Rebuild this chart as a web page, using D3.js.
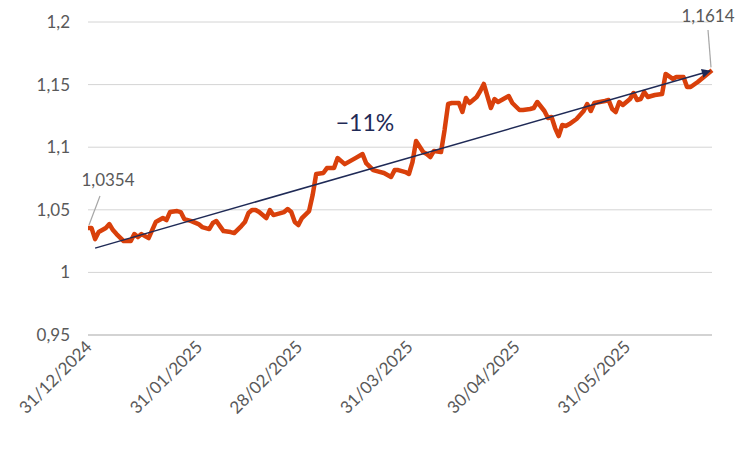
<!DOCTYPE html><html><head><meta charset="utf-8"><script src="https://cdn.jsdelivr.net/npm/d3@7"></script>
<style>body{margin:0;background:#fff}text{font-family:Lato,"Open Sans",sans-serif}</style></head><body><svg id="c" width="750" height="450"></svg><script>
const dayOffsets=[0,1,2,3,5,6,7,8,10,11,12,13,14,15,17,18,19,21,22,23,25,26,27,29,31,32,34,35,36,37,38,40,41,43,44,45,46,47,48,50,51,52,53,55,56,57,58,59,60,62,63,64,66,67,68,69,70,72,73,75,77,78,80,81,83,85,86,87,89,90,91,92,94,95,96,97,99,100,101,102,104,105,106,107,109,110,111,113,114,115,117,118,119,121,122,124,125,126,128,129,130,131,132,133,134,135,137,139,140,141,142,145,146,147,148,149,150,152,153,154,155,156,157,159,161,162,164,165,167,168,169,171,175];
const values=[1.0354,1.0354,1.0266,1.0322,1.0354,1.0386,1.0338,1.0306,1.025,1.025,1.025,1.0306,1.0282,1.0306,1.0274,1.0338,1.0402,1.0434,1.0418,1.0482,1.049,1.0482,1.0426,1.041,1.0386,1.0362,1.0346,1.0394,1.041,1.037,1.033,1.0322,1.0314,1.037,1.0402,1.0474,1.0498,1.0498,1.0482,1.0434,1.0498,1.0458,1.0466,1.0482,1.0506,1.0482,1.0402,1.0378,1.0434,1.049,1.0618,1.0786,1.0794,1.0833,1.0833,1.0833,1.0913,1.0865,1.0881,1.0913,1.0945,1.0873,1.0817,1.0809,1.0794,1.0762,1.0817,1.0817,1.0801,1.0786,1.0881,1.1049,1.0961,1.0945,1.0921,1.0969,1.0961,1.1137,1.1345,1.1353,1.1353,1.1281,1.1393,1.1353,1.1401,1.1449,1.1505,1.1313,1.1385,1.1361,1.1393,1.1409,1.1353,1.1297,1.1297,1.1305,1.1313,1.1361,1.1289,1.1233,1.1241,1.1153,1.1089,1.1177,1.1169,1.1185,1.1225,1.1289,1.1345,1.1289,1.1353,1.1369,1.1377,1.1305,1.1281,1.1361,1.1337,1.1385,1.1433,1.1377,1.1385,1.1441,1.1401,1.1417,1.1425,1.1585,1.1545,1.1561,1.1561,1.1481,1.1481,1.1521,1.1614];
const xTickLabels=["31/12/2024","31/01/2025","28/02/2025","31/03/2025","30/04/2025","31/05/2025"];
const yTicks=[0.95,1,1.05,1.1,1.15,1.2];
const trend={start:[2,1.0194],end:[175,1.1608]};
const startDate=new Date(2024,11,31);
const parse=d3.timeParse("%d/%m/%Y");
const dates=dayOffsets.map(o=>d3.timeDay.offset(startDate,o));
const svg=d3.select("#c");
const x=d3.scaleTime().domain([startDate,d3.timeDay.offset(startDate,175)]).range([88,712]);
const y=d3.scaleLinear().domain([0.95,1.2]).range([335,22]);
const fmt=v=>String(v).replace(".",",");
svg.append("g").selectAll("line").data(yTicks).join("line").attr("x1",88).attr("x2",712).attr("y1",d=>y(d)).attr("y2",d=>y(d)).attr("stroke","#d4d4d4").attr("stroke-width",1);
svg.append("line").attr("x1",88).attr("x2",712).attr("y1",y(0.95)).attr("y2",y(0.95)).attr("stroke","#bdbdbd");
svg.append("g").selectAll("text").data(yTicks).join("text").attr("x",70).attr("y",d=>y(d)+6).attr("text-anchor","end").attr("font-size",17).attr("fill","#595959").text(fmt);
svg.append("g").selectAll("text").data(xTickLabels).join("text").attr("transform",d=>`translate(${x(parse(d))+5},${348}) rotate(-45)`).attr("text-anchor","end").attr("font-size",17).attr("fill","#595959").text(d=>d);
const line=d3.line().x((d,i)=>x(dates[i])).y(d=>y(d));
svg.append("path").datum(values).attr("d",line).attr("fill","none").attr("stroke","#d9400b").attr("stroke-width",4.5).attr("stroke-linejoin","round");
svg.append("defs").append("marker").attr("id","ar").attr("viewBox","0 0 10 10").attr("refX",9).attr("refY",5).attr("markerWidth",12).attr("markerHeight",9).attr("markerUnits","userSpaceOnUse").attr("orient","auto").append("path").attr("d","M0,0L10,5L0,10Z").attr("fill","#1f2a56");
svg.append("line").attr("x1",x(d3.timeDay.offset(startDate,trend.start[0]))).attr("y1",y(trend.start[1])).attr("x2",x(d3.timeDay.offset(startDate,trend.end[0]))-2).attr("y2",y(trend.end[1])).attr("stroke","#1f2a56").attr("stroke-width",1.5).attr("marker-end","url(#ar)");
svg.append("text").attr("x",365).attr("y",131).attr("text-anchor","middle").attr("font-size",23).attr("fill","#1f2a56").text("−11%");
const last=values.length-1;
svg.append("line").attr("x1",100).attr("y1",196).attr("x2",x(dates[0])+1).attr("y2",y(values[0])-3).attr("stroke","#a6a6a6").attr("stroke-width",1.2);
svg.append("text").attr("x",108).attr("y",186).attr("text-anchor","middle").attr("font-size",17).attr("fill","#595959").text(fmt(values[0]));
svg.append("line").attr("x1",708).attr("y1",30).attr("x2",x(dates[last])-1).attr("y2",y(values[last])-3).attr("stroke","#a6a6a6").attr("stroke-width",1.2);
svg.append("text").attr("x",708).attr("y",22).attr("text-anchor","middle").attr("font-size",17).attr("fill","#595959").text(fmt(values[last]));
</script></body></html>
